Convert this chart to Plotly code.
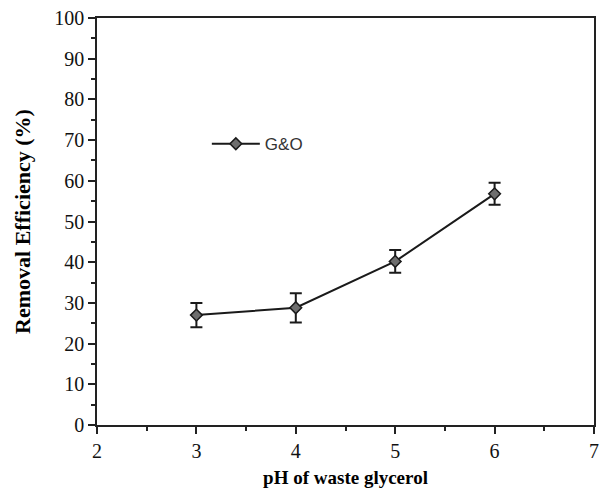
import plotly.graph_objects as go

ph = [3, 4, 5, 6]
removal = [27.0, 28.8, 40.2, 56.8]
err = [3.0, 3.6, 2.8, 2.7]
series_name = "G&O"

fig = go.Figure()
fig.add_trace(go.Scatter(
    x=ph, y=removal, name=series_name, mode="lines+markers",
    line=dict(color="#1a1a1a", width=2),
    marker=dict(symbol="diamond", size=9, color="#6e6e6e",
                line=dict(color="#1a1a1a", width=1.5)),
    error_y=dict(type="data", array=err, visible=True, color="#1a1a1a",
                 thickness=2, width=6),
))

serif = "Liberation Serif, Times New Roman, serif"
fig.update_layout(
    width=600, height=493,
    margin=dict(l=97, r=6, t=18, b=68),
    plot_bgcolor="white", paper_bgcolor="white",
    showlegend=True,
    legend=dict(x=0.221, y=0.69, xanchor="left", yanchor="middle",
                bgcolor="rgba(0,0,0,0)", itemwidth=48,
                font=dict(family="Liberation Sans, Arial, sans-serif", size=17, color="#333")),
    font=dict(family=serif, color="black"),
)
fig.update_xaxes(
    range=[2, 7], tickmode="linear", tick0=2, dtick=1, automargin=False,
    ticks="outside", ticklen=7, tickwidth=1.5, tickcolor="#222",
    minor=dict(ticks="outside", ticklen=4, dtick=0.5, tickcolor="#222", tickwidth=1.5),
    showline=True, linecolor="#222", linewidth=1.5, mirror=True,
    showgrid=False, zeroline=False,
    tickfont=dict(family=serif, size=20, color="#111"),
    title=dict(text="<b>pH of waste glycerol</b>", font=dict(family=serif, size=19), standoff=10),
)
fig.update_yaxes(
    range=[0, 100], tickmode="linear", tick0=0, dtick=10, automargin=False,
    ticks="outside", ticklen=7, tickwidth=1.5, tickcolor="#222",
    minor=dict(ticks="outside", ticklen=4, dtick=5, tickcolor="#222", tickwidth=1.5),
    showline=True, linecolor="#222", linewidth=1.5, mirror=True,
    showgrid=False, zeroline=False,
    tickfont=dict(family=serif, size=20, color="#111"),
    title=dict(text="<b>Removal Efficiency (%)</b>", font=dict(family=serif, size=22), standoff=18),
)
fig.write_html("out.html")
